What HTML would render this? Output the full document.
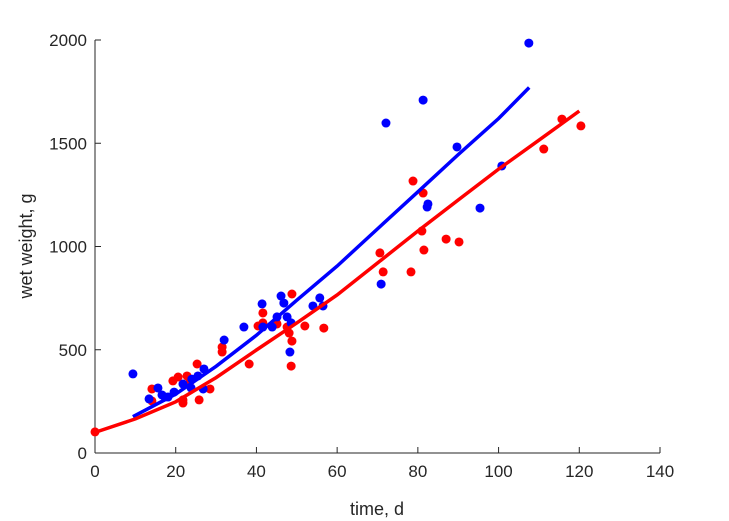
<!DOCTYPE html>
<html><head><meta charset="utf-8"><style>
body{margin:0;background:#fff;}
svg{display:block;font-family:"Liberation Sans",Arial,sans-serif;}
</style></head><body>
<svg id="chart" width="729" height="521" viewBox="0 0 729 521" xmlns="http://www.w3.org/2000/svg">
<rect width="729" height="521" fill="#fff"/>
<g id="axes"></g>
<g id="marks"></g>
<text x="377" y="515" text-anchor="middle" font-size="18" fill="#262626">time, d</text>
<text transform="translate(32,246) rotate(-90)" text-anchor="middle" font-size="18" fill="#262626">wet weight, g</text>
</svg>
<script>
const xTicks=[0,20,40,60,80,100,120,140];
const yTicks=[0,500,1000,1500,2000];
const redX=[0,14.1,14.1,19.3,20.6,21.8,21.8,22.8,23.5,25.3,25.8,28.5,31.5,31.5,38.2,40.4,41.6,41.6,45.1,48.8,48.1,48.8,48.6,52.0,56.7,47.6,78.8,81.3,81.0,70.6,71.4,78.3,81.5,87.0,90.2,111.2,115.7,120.4];
const redY=[102,310,252,349,368,257,242,373,344,431,257,310,513,489,431,615,678,630,625,770,581,542,421,615,605,610,1317,1259,1075,969,877,877,983,1036,1022,1472,1617,1584];
const blueX=[9.4,13.4,15.6,16.6,17.3,18.1,19.6,21.8,23.8,24.0,25.5,27.0,26.8,32.0,36.9,41.4,41.6,43.9,45.1,46.1,46.8,47.6,48.6,48.3,54.0,55.7,56.5,107.5,81.3,72.1,89.7,100.8,82.5,82.3,95.4,70.9];
const blueY=[383,262,315,281,271,271,295,334,315,358,373,407,310,547,610,722,610,610,659,760,726,659,630,489,712,751,712,1985,1709,1598,1482,1390,1206,1191,1186,818];
const redFitX=[0,10,20,30,40,50,60,70,80,90,100,110,120];
const redFitY=[100,165,248,365,499,630,765,920,1075,1225,1375,1515,1656];
const blueFitX=[9.4,20,30,40,50,60,70,80,90,100,107.6];
const blueFitY=[176,285,420,570,740,905,1085,1265,1445,1620,1770];

const L=95,R=660,T=40,B=453;
const sx=v=>L+(v-0)/(140-0)*(R-L);
const sy=v=>B-(v-0)/(2000-0)*(B-T);
const NS="http://www.w3.org/2000/svg";
const axes=document.getElementById('axes');
const marks=document.getElementById('marks');
function mk(tag,attrs,parent){const e=document.createElementNS(NS,tag);for(const k in attrs)e.setAttribute(k,attrs[k]);parent.appendChild(e);return e;}

let e=mk('line',{x1:L,y1:B,x2:R,y2:B,stroke:'#262626','stroke-width':1},axes);


e=mk('line',{x1:L,y1:B,x2:L,y2:T,stroke:'#262626','stroke-width':1},axes);


xTicks.forEach(t=>{
  const x=sx(t);
  const tk=mk('line',{x1:x,y1:B,x2:x,y2:B-6,stroke:'#262626','stroke-width':1},axes);
  
  
  const lb=mk('text',{x:x,y:B+24,'text-anchor':'middle','font-size':17,fill:'#262626'},axes);
  lb.textContent=t;
  
  
});
yTicks.forEach(t=>{
  const y=sy(t);
  const tk=mk('line',{x1:L,y1:y,x2:L+6,y2:y,stroke:'#262626','stroke-width':1},axes);
  
  
  const lb=mk('text',{x:L-8,y:y+6,'text-anchor':'end','font-size':17,fill:'#262626'},axes);
  lb.textContent=t;
  
  
});
function pts(xs,ys){return xs.map((x,i)=>sx(x).toFixed(1)+','+sy(ys[i]).toFixed(1)).join(' ');}
redX.forEach((x,i)=>{
  const c=mk('circle',{cx:sx(x),cy:sy(redY[i]),r:4.5,fill:'#ff0000'},marks);
  
  
});
blueX.forEach((x,i)=>{
  const c=mk('circle',{cx:sx(x),cy:sy(blueY[i]),r:4.5,fill:'#0000ff'},marks);
  
  
});
const bl=mk('polyline',{points:pts(blueFitX,blueFitY),fill:'none',stroke:'#0000ff','stroke-width':3.5},marks);


const rl=mk('polyline',{points:pts(redFitX,redFitY),fill:'none',stroke:'#ff0000','stroke-width':3.5},marks);


</script>
</body></html>
